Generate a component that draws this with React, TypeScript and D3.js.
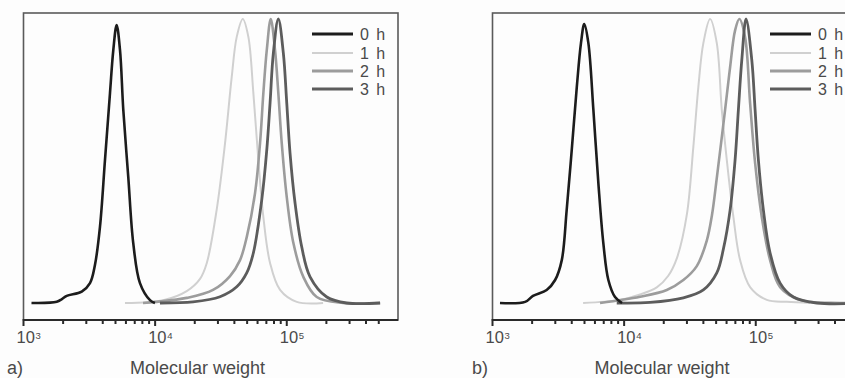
import React from "react";
import * as d3 from "d3";

// ---------- data (molecular weight, normalized intensity) ----------
const SERIES_LABELS = ["0 h", "1 h", "2 h", "3 h"];
const SERIES_COLORS = ["#1c1c1c", "#d0d0d0", "#9c9c9c", "#5c5c5c"];
const SERIES_WIDTHS = [2.6, 2, 2.6, 2.8];

const MAJOR_TICKS = [1e3, 1e4, 1e5];
const MINOR_MULTIPLIERS = [2, 3, 4, 5, 6, 7, 8, 9];
const AXIS_TITLE = "Molecular weight";

type Pt = [number, number];

const A_0H: Pt[] = [
  [1150, 0], [1790, 0.004], [1960, 0.014], [2130, 0.025], [2770, 0.04], [3200, 0.07],
  [3490, 0.134], [3810, 0.268], [4160, 0.504], [4540, 0.739], [4810, 0.89], [5100, 0.979],
  [5410, 0.89], [5730, 0.68], [6250, 0.444], [6820, 0.211], [7670, 0.07], [9140, 0.01], [9970, 0],
];
const A_1H: Pt[] = [
  [5900, 0], [11530, 0.01], [17380, 0.042], [21930, 0.085], [24660, 0.14], [29380, 0.33],
  [33980, 0.563], [38190, 0.796], [41680, 0.937], [46330, 1.0], [51080, 0.937], [55740, 0.74],
  [60830, 0.504], [66400, 0.303], [74660, 0.141], [88950, 0.046], [119100, 0.004], [188800, 0],
];
const A_2H: Pt[] = [
  [8090, 0], [10280, 0.004], [17380, 0.018], [27540, 0.046], [37070, 0.095], [44150, 0.151],
  [49650, 0.232], [57410, 0.387], [62660, 0.563], [66400, 0.739], [70500, 0.89], [75560, 1.0],
  [81460, 0.89], [86290, 0.739], [91600, 0.563], [100000, 0.373], [112300, 0.211],
  [133700, 0.092], [169000, 0.021], [267800, 0], [511900, 0],
];
const A_3H: Pt[] = [
  [10880, 0], [19410, 0.004], [31120, 0.022], [41680, 0.057], [49650, 0.106], [55740, 0.176],
  [64570, 0.363], [70500, 0.539], [74660, 0.704], [79090, 0.88], [86290, 1.0], [94200, 0.88],
  [100000, 0.704], [105900, 0.528], [115600, 0.352], [130000, 0.197], [150300, 0.092],
  [201400, 0.021], [285600, 0], [511900, 0],
];

const B_0H: Pt[] = [
  [1140, 0], [1770, 0.004], [2030, 0.025], [2580, 0.046], [2990, 0.081], [3360, 0.151],
  [3660, 0.327], [4000, 0.539], [4370, 0.761], [4700, 0.915], [4980, 0.982], [5350, 0.915],
  [5840, 0.68], [6370, 0.423], [6950, 0.211], [7590, 0.081], [8530, 0.021], [9640, 0],
];
const B_1H: Pt[] = [
  [4880, 0], [9310, 0.011], [13210, 0.03], [17700, 0.055], [21580, 0.095], [25250, 0.16],
  [29920, 0.31], [33560, 0.55], [36640, 0.761], [39980, 0.915], [44980, 1.0], [50570, 0.915],
  [55200, 0.68], [60250, 0.504], [67620, 0.303], [76030, 0.151], [90580, 0.056],
  [121300, 0.011], [172200, 0.004], [258800, 0],
];
const B_2H: Pt[] = [
  [6560, 0], [13210, 0.022], [21090, 0.046], [28180, 0.081], [35640, 0.13], [42460, 0.22],
  [46500, 0.31], [50570, 0.44], [58480, 0.68], [63830, 0.83], [69660, 0.96], [75040, 1.0],
  [82920, 0.937], [90580, 0.704], [98850, 0.493], [111100, 0.303], [128500, 0.151],
  [153100, 0.056], [217300, 0.011], [437400, 0], [650000, 0],
];
const B_3H: Pt[] = [
  [8790, 0], [15740, 0.002], [28180, 0.018], [39980, 0.046], [50570, 0.106], [56760, 0.19],
  [63830, 0.327], [69660, 0.504], [73790, 0.68], [78340, 0.856], [84410, 1.0], [93280, 0.856],
  [98850, 0.68], [104700, 0.504], [114300, 0.327], [128500, 0.176], [153100, 0.07],
  [193200, 0.021], [291100, 0], [650000, 0],
];

const PANEL_A_SERIES = [A_0H, A_1H, A_2H, A_3H];
const PANEL_B_SERIES = [B_0H, B_1H, B_2H, B_3H];

// ---------- layout ----------
const W = 845;
const H = 378;
const PLOT_TOP = 13;
const PLOT_H = 307;
const PLOT_W = 374.5;

const x = d3.scaleLog().domain([1e3, 7e5]).range([0, PLOT_W]);
const y = d3.scaleLinear().domain([0, 1]).range([290, 6]);

const line = d3
  .line<Pt>()
  .x((d) => x(d[0]))
  .y((d) => Math.min(y(0), y(d[1])))
  .curve(d3.curveCatmullRom.alpha(0.5));

const minorTicks: number[] = [];
MAJOR_TICKS.forEach((dec) =>
  MINOR_MULTIPLIERS.forEach((m) => {
    if (m * dec <= 5e5) minorTicks.push(m * dec);
  })
);

const TEXT_FONT = "'Liberation Sans', Arial, sans-serif";
const TEXT_COLOR = "#4a4a4a";

function Panel(props: {
  id: string;
  left: number;
  series: Pt[][];
  legendX: number;
  label: string;
  labelX: number;
  titleX: number;
}) {
  const { id, left, series, legendX, label, labelX, titleX } = props;
  const legendYs = [34, 53, 71, 89];
  const order = [1, 2, 3, 0];
  return (
    <g>
      <defs>
        <clipPath id={id}>
          <rect x={0} y={0} width={PLOT_W} height={PLOT_H} />
        </clipPath>
      </defs>
      <g transform={`translate(${left},${PLOT_TOP})`}>
        <g clipPath={`url(#${id})`}>
          {order.map((i) => (
            <path
              key={i}
              d={line(series[i]) || ""}
              fill="none"
              stroke={SERIES_COLORS[i]}
              strokeWidth={SERIES_WIDTHS[i]}
              strokeLinejoin="round"
            />
          ))}
        </g>
        {/* frame */}
        <rect x={0} y={0} width={PLOT_W} height={PLOT_H} fill="none" stroke="#5a5a5a" strokeWidth={1.6} />
        {/* bottom axis */}
        <line x1={-0.5} x2={PLOT_W} y1={PLOT_H} y2={PLOT_H} stroke="#2a2a2a" strokeWidth={2} />
        {MAJOR_TICKS.map((t) => (
          <line key={"M" + t} x1={x(t)} x2={x(t)} y1={PLOT_H - 1} y2={PLOT_H + 6} stroke="#2a2a2a" strokeWidth={2} />
        ))}
        {minorTicks.map((t) => (
          <line key={"m" + t} x1={x(t)} x2={x(t)} y1={PLOT_H} y2={PLOT_H + 4} stroke="#2a2a2a" strokeWidth={2} />
        ))}
        {MAJOR_TICKS.map((t) => (
          <g key={"L" + t} fontFamily={TEXT_FONT} fill={TEXT_COLOR}>
            <text x={x(t) - 7} y={343 - PLOT_TOP} fontSize={16.5}>
              10
            </text>
            <text x={x(t) + 12} y={339 - PLOT_TOP} fontSize={9.5}>
              {Math.round(Math.log10(t))}
            </text>
          </g>
        ))}
      </g>
      {/* legend */}
      {SERIES_LABELS.map((s, i) => (
        <g key={s}>
          <line
            x1={left + legendX}
            x2={left + legendX + 41}
            y1={legendYs[i]}
            y2={legendYs[i]}
            stroke={SERIES_COLORS[i]}
            strokeWidth={i === 1 ? 1.8 : 3}
          />
          <text
            x={left + legendX + 48}
            y={legendYs[i] + 6}
            fontSize={16}
            fontFamily={TEXT_FONT}
            fill={TEXT_COLOR}
            letterSpacing={1.5}
          >
            {s}
          </text>
        </g>
      ))}
      <text x={labelX} y={374} fontSize={18} fontFamily={TEXT_FONT} fill={TEXT_COLOR}>
        {label}
      </text>
      <text x={titleX} y={374} fontSize={18} fontFamily={TEXT_FONT} fill={TEXT_COLOR} textAnchor="middle">
        {AXIS_TITLE}
      </text>
    </g>
  );
}

export default function App() {
  return (
    <svg
      width={W}
      height={H}
      viewBox={`0 0 ${W} ${H}`}
      style={{ position: "absolute", left: 0, top: 0, background: "#fdfdfd" }}
    >
      <rect x={0} y={0} width={W} height={H} fill="#fdfdfd" />
      <Panel id="clipA" left={23.5} series={PANEL_A_SERIES} legendX={288.5} label="a)" labelX={7} titleX={197.5} />
      <Panel id="clipB" left={492.5} series={PANEL_B_SERIES} legendX={277.5} label="b)" labelX={472} titleX={662} />
    </svg>
  );
}
